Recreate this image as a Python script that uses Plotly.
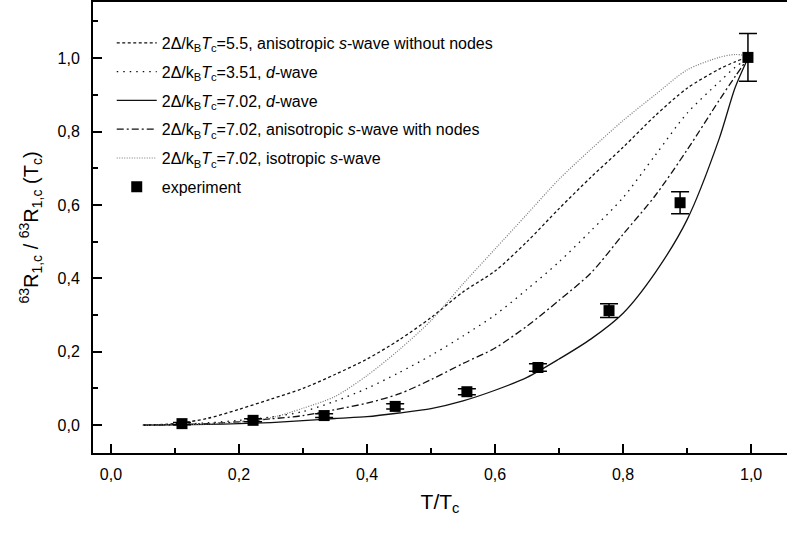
import plotly.graph_objects as go

# ---- data ----
t_grid = [0.05, 0.1, 0.15, 0.2, 0.25, 0.3, 0.35, 0.4, 0.45, 0.5, 0.55, 0.6,
          0.65, 0.7, 0.75, 0.8, 0.85, 0.9, 0.95, 0.975, 0.995]

s_aniso_nonodes_55 = [0.0, 0.004, 0.018, 0.043, 0.071, 0.1, 0.138, 0.18, 0.232, 0.293,
                      0.363, 0.42, 0.5, 0.59, 0.676, 0.757, 0.843, 0.918, 0.97, 0.99, 1.003]
d_wave_351 = [0.0, 0.002, 0.006, 0.013, 0.022, 0.037, 0.065, 0.1, 0.143, 0.19,
              0.243, 0.3, 0.37, 0.445, 0.53, 0.62, 0.735, 0.85, 0.935, 0.975, 1.0]
d_wave_702 = [0.0, 0.001, 0.002, 0.004, 0.007, 0.012, 0.018, 0.023, 0.033, 0.045,
              0.066, 0.095, 0.13, 0.18, 0.235, 0.305, 0.415, 0.56, 0.78, 0.92, 1.0]
s_aniso_nodes_702 = [0.0, 0.001, 0.004, 0.009, 0.017, 0.026, 0.042, 0.06, 0.085, 0.124,
                     0.168, 0.21, 0.27, 0.34, 0.415, 0.52, 0.625, 0.75, 0.885, 0.95, 1.0]
s_iso_702 = [0.0, 0.001, 0.003, 0.008, 0.02, 0.046, 0.078, 0.135, 0.205, 0.285,
             0.385, 0.48, 0.575, 0.67, 0.752, 0.83, 0.9, 0.968, 1.002, 1.01, 1.006]

exp_t = [0.111, 0.222, 0.333, 0.444, 0.556, 0.667, 0.778, 0.889, 0.995]
exp_r = [0.004, 0.013, 0.026, 0.051, 0.091, 0.157, 0.312, 0.606, 1.002]
exp_err = [0.003, 0.004, 0.005, 0.007, 0.008, 0.010, 0.019, 0.030, 0.065]

x_tickvals = [0.0, 0.2, 0.4, 0.6, 0.8, 1.0]
y_tickvals = [0.0, 0.2, 0.4, 0.6, 0.8, 1.0]

pre = "2Δ/k<sub>B</sub><i>T</i><sub>c</sub>"
names = [
    pre + "=5.5, anisotropic <i>s</i>-wave without nodes",
    pre + "=3.51, <i>d</i>-wave",
    pre + "=7.02, <i>d</i>-wave",
    pre + "=7.02, anisotropic <i>s</i>-wave with nodes",
    pre + "=7.02, isotropic <i>s</i>-wave",
]

FONT = "Liberation Sans, Arial, Helvetica, sans-serif"

fig = go.Figure()
styles = [
    (s_aniso_nonodes_55, dict(color="#111", width=1.3, dash="3px,2.5px")),
    (d_wave_351, dict(color="#111", width=1.3, dash="1.5px,5px")),
    (d_wave_702, dict(color="#111", width=1.3)),
    (s_aniso_nodes_702, dict(color="#111", width=1.3, dash="7px,3px,2px,3px")),
    (s_iso_702, dict(color="#777", width=1.2, dash="1px,1.5px")),
]
for i, ((ys, ln), nm) in enumerate(zip(styles, names)):
    fig.add_trace(go.Scatter(x=t_grid, y=ys, mode="lines", name=nm, legendgroup=f"g{i}",
                             line=dict(shape="spline", smoothing=0.8, **ln)))

fig.add_trace(go.Scatter(
    x=exp_t, y=exp_r, mode="markers", name="experiment", legendgroup="gexp",
    marker=dict(symbol="square", size=11, color="black"),
    error_y=dict(type="data", array=exp_err, visible=True,
                 color="black", thickness=1.5, width=9),
))

fig.update_layout(
    width=787, height=535,
    margin=dict(l=93, r=0, t=2, b=82, autoexpand=False),
    paper_bgcolor="white", plot_bgcolor="white",
    separators=",.",
    font=dict(family=FONT, size=16, color="black"),
    showlegend=True,
    legend=dict(x=0.027, y=0.947, xanchor="left", yanchor="top",
                bgcolor="rgba(0,0,0,0)", font=dict(size=16, family=FONT),
                itemwidth=40, tracegroupgap=5),
)
fig.update_xaxes(
    range=[-0.028, 1.056], tickvals=x_tickvals, tickformat=".1f",
    automargin=False,
    showgrid=False, zeroline=False,
    showline=True, linecolor="black", linewidth=2, mirror=True,
    ticks="inside", ticklen=9, tickwidth=2, tickcolor="black",
    minor=dict(dtick=0.1, tick0=0, ticks="inside", ticklen=5, tickwidth=2, tickcolor="black"),
    ticklabelstandoff=6,
    title=dict(text="T/T<sub>c</sub>", font=dict(size=21, family=FONT), standoff=12),
)
fig.update_yaxes(
    range=[-0.076, 1.153], tickvals=y_tickvals, tickformat=".1f",
    automargin=False,
    showgrid=False, zeroline=False,
    showline=True, linecolor="black", linewidth=2, mirror=False,
    ticks="inside", ticklen=9, tickwidth=2, tickcolor="black",
    minor=dict(dtick=0.1, tick0=0, ticks="inside", ticklen=5, tickwidth=2, tickcolor="black"),
    ticklabelstandoff=8,
    title=dict(text="<sup>63</sup>R<sub>1,c</sub> / <sup>63</sup>R<sub>1,c</sub> (T<sub>c</sub>)",
               font=dict(size=20, family=FONT), standoff=14),
)

fig.write_html("out.html", config={"displayModeBar": False},
               post_script="document.body.style.margin='0';document.body.style.overflow='hidden';")
